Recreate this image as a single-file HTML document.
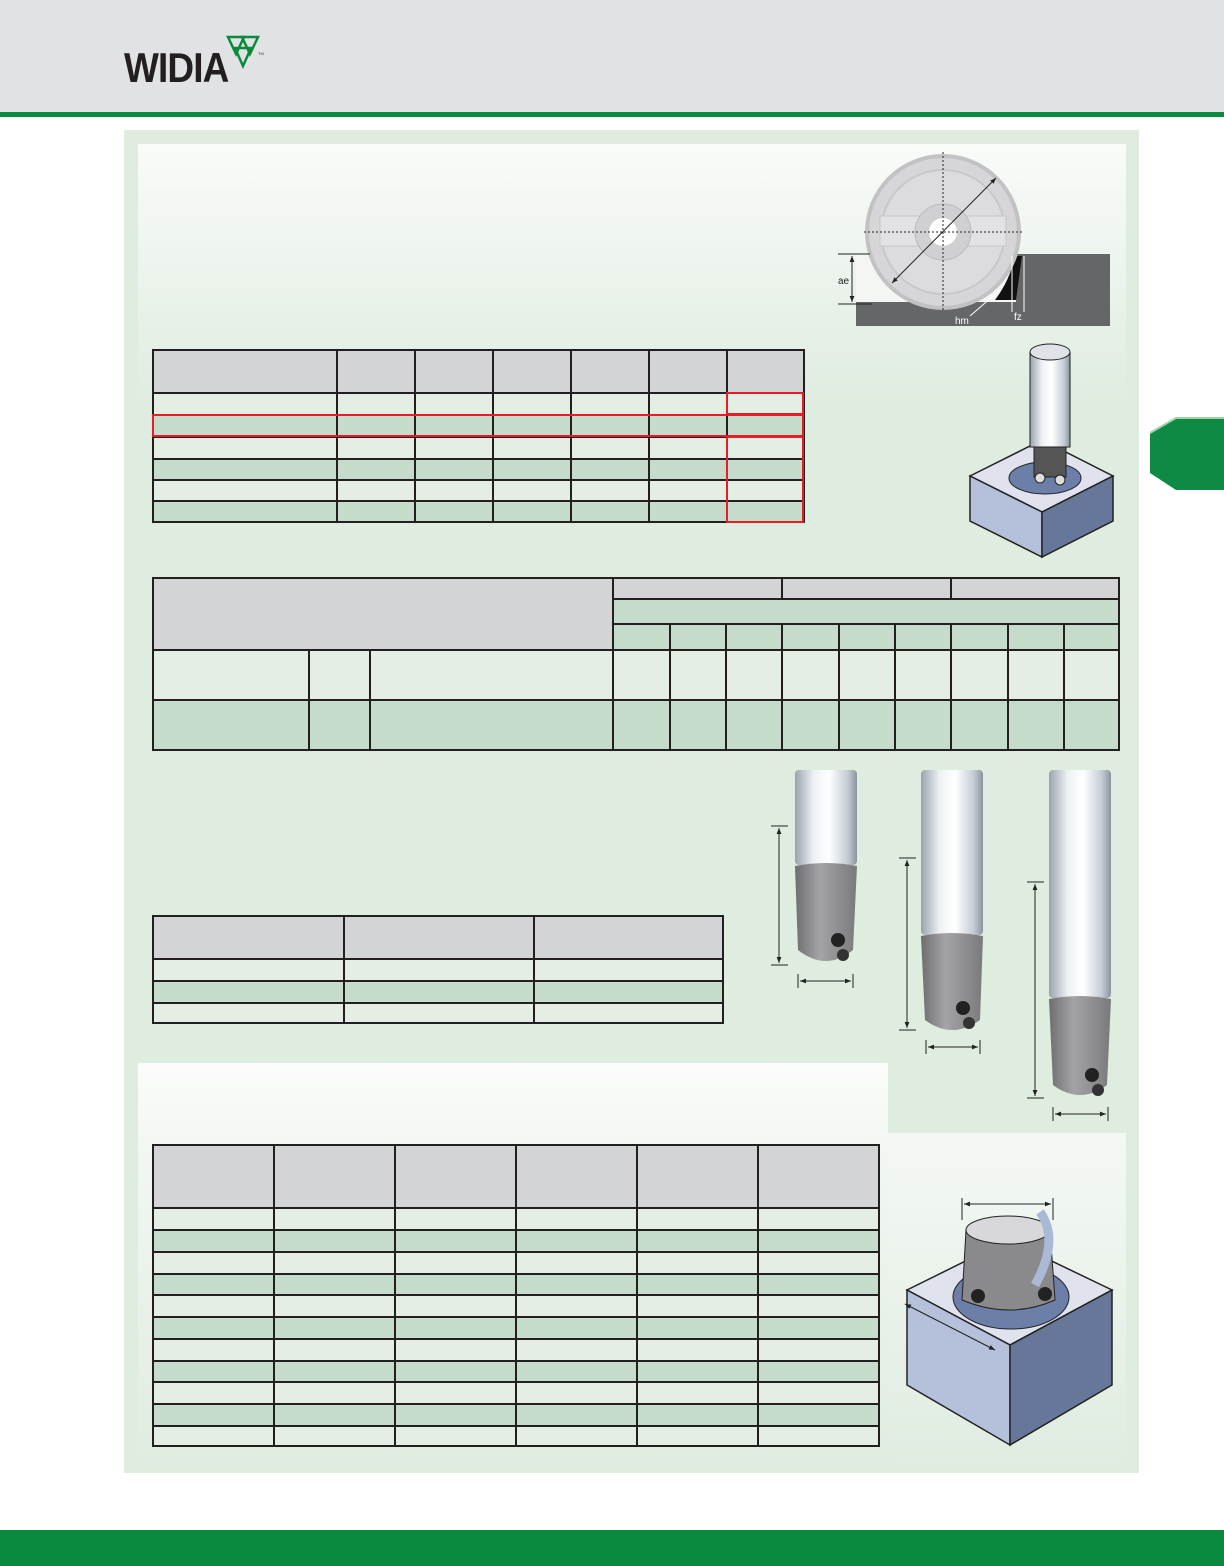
<!DOCTYPE html>
<html><head><meta charset="utf-8"><style>
*{margin:0;padding:0;box-sizing:border-box}
body{width:1224px;height:1566px;position:relative;background:#fff;overflow:hidden;font-family:"Liberation Sans",sans-serif}
.abs{position:absolute}
table{position:absolute;border-collapse:collapse;table-layout:fixed}
td{border:2px solid #231f20;padding:0}
.g{background:#d3d4d6}.l{background:#e4eee5}.d{background:#c5dccc}
.red{position:absolute;border:2px solid #e31e24}
</style></head><body>
<div class="abs" style="left:0;top:0;width:1224px;height:112px;background:#e1e2e4"></div>
<div class="abs" style="left:0;top:112px;width:1224px;height:5px;background:#0a8a3c"></div>
<div class="abs" style="left:124px;top:44px;font-size:42px;font-weight:bold;color:#231f20;letter-spacing:-1px;transform:scaleX(0.88);transform-origin:left">WIDIA</div>
<svg class="abs" style="left:226px;top:34px" width="40" height="46"><g fill="none" stroke="#0a8a3c" stroke-width="2.5"><polygon points="2,3 18,3 10,20"/><polygon points="16,3 32,3 24,20"/><polygon points="9,14 25,14 17,32" /></g><text x="32" y="21" font-size="4" fill="#333">TM</text></svg>
<div class="abs" style="left:124px;top:130px;width:1015px;height:1343px;background:#dfece0"></div>
<div class="abs" style="left:138px;top:144px;width:988px;height:260px;background:linear-gradient(#f9fbf9,#dfece0)"></div>
<div class="abs" style="left:138px;top:1063px;width:750px;height:410px;background:linear-gradient(#fbfcfb 0%,#f1f6f1 25%,#dfece0 100%)"></div>
<div class="abs" style="left:888px;top:1133px;width:238px;height:340px;background:linear-gradient(#f4f8f4,#dfece0)"></div>
<svg class="abs" style="left:1148px;top:416px" width="76" height="76"><polygon points="28,2 76,2 76,74 28,74 2,57 2,17" fill="#0f8a45"/><polyline points="2,17 28,2 76,2" stroke="#9fd0a8" stroke-width="2" fill="none"/></svg>
<div class="abs" style="left:0;top:1530px;width:1224px;height:36px;background:#0a8a3c"></div>

<!-- table 1 -->
<table style="left:152px;top:349px;width:651px;height:172px">
<colgroup><col style="width:184px"><col style="width:78px"><col style="width:78px"><col style="width:78px"><col style="width:78px"><col style="width:78px"><col style="width:77px"></colgroup>
<tr style="height:43px" class="g"><td></td><td></td><td></td><td></td><td></td><td></td><td></td></tr>
<tr style="height:22px" class="l"><td></td><td></td><td></td><td></td><td></td><td></td><td></td></tr>
<tr style="height:22px" class="d"><td></td><td></td><td></td><td></td><td></td><td></td><td></td></tr>
<tr style="height:22px" class="l"><td></td><td></td><td></td><td></td><td></td><td></td><td></td></tr>
<tr style="height:21px" class="d"><td></td><td></td><td></td><td></td><td></td><td></td><td></td></tr>
<tr style="height:21px" class="l"><td></td><td></td><td></td><td></td><td></td><td></td><td></td></tr>
<tr style="height:21px" class="d"><td></td><td></td><td></td><td></td><td></td><td></td><td></td></tr>
</table>
<div class="red" style="left:152px;top:414px;width:652px;height:23px"></div>
<div class="red" style="left:726px;top:392px;width:78px;height:23px"></div>
<div class="red" style="left:726px;top:436px;width:78px;height:87px"></div>

<!-- table 2 -->
<table style="left:152px;top:577px;width:966px;height:172px">
<colgroup><col style="width:156px"><col style="width:61px"><col style="width:243px"><col style="width:57px"><col style="width:56px"><col style="width:56px"><col style="width:57px"><col style="width:56px"><col style="width:56px"><col style="width:57px"><col style="width:56px"><col style="width:55px"></colgroup>
<tr style="height:21px"><td class="g" colspan="3" rowspan="3"></td><td class="g" colspan="3"></td><td class="g" colspan="3"></td><td class="g" colspan="3"></td></tr>
<tr style="height:25px"><td class="d" colspan="9"></td></tr>
<tr style="height:26px" class="d"><td></td><td></td><td></td><td></td><td></td><td></td><td></td><td></td><td></td></tr>
<tr style="height:50px" class="l"><td></td><td></td><td></td><td></td><td></td><td></td><td></td><td></td><td></td><td></td><td></td><td></td></tr>
<tr style="height:50px" class="d"><td></td><td></td><td></td><td></td><td></td><td></td><td></td><td></td><td></td><td></td><td></td><td></td></tr>
</table>

<!-- table 3 -->
<table style="left:152px;top:915px;width:570px;height:107px">
<colgroup><col style="width:191px"><col style="width:190px"><col style="width:189px"></colgroup>
<tr style="height:43px" class="g"><td></td><td></td><td></td></tr>
<tr style="height:22px" class="l"><td></td><td></td><td></td></tr>
<tr style="height:22px" class="d"><td></td><td></td><td></td></tr>
<tr style="height:20px" class="l"><td></td><td></td><td></td></tr>
</table>

<!-- table 4 -->
<table style="left:152px;top:1144px;width:726px;height:301px">
<colgroup><col style="width:121px"><col style="width:121px"><col style="width:121px"><col style="width:121px"><col style="width:121px"><col style="width:121px"></colgroup>
<tr style="height:63px" class="g"><td></td><td></td><td></td><td></td><td></td><td></td></tr>
<tr style="height:22px" class="l"><td></td><td></td><td></td><td></td><td></td><td></td></tr>
<tr style="height:22px" class="d"><td></td><td></td><td></td><td></td><td></td><td></td></tr>
<tr style="height:22px" class="l"><td></td><td></td><td></td><td></td><td></td><td></td></tr>
<tr style="height:21px" class="d"><td></td><td></td><td></td><td></td><td></td><td></td></tr>
<tr style="height:22px" class="l"><td></td><td></td><td></td><td></td><td></td><td></td></tr>
<tr style="height:22px" class="d"><td></td><td></td><td></td><td></td><td></td><td></td></tr>
<tr style="height:22px" class="l"><td></td><td></td><td></td><td></td><td></td><td></td></tr>
<tr style="height:21px" class="d"><td></td><td></td><td></td><td></td><td></td><td></td></tr>
<tr style="height:22px" class="l"><td></td><td></td><td></td><td></td><td></td><td></td></tr>
<tr style="height:22px" class="d"><td></td><td></td><td></td><td></td><td></td><td></td></tr>
<tr style="height:20px" class="l"><td></td><td></td><td></td><td></td><td></td><td></td></tr>
</table>

<svg class="abs" style="left:0;top:0" width="1224" height="1566">
<defs>
<linearGradient id="sh" x1="0" x2="1"><stop offset="0" stop-color="#9aa3ad"/><stop offset="0.3" stop-color="#eef1f4"/><stop offset="0.55" stop-color="#ffffff"/><stop offset="0.85" stop-color="#c5ccd4"/><stop offset="1" stop-color="#8b949e"/></linearGradient>
<linearGradient id="bd" x1="0" x2="1"><stop offset="0" stop-color="#6e6e70"/><stop offset="0.4" stop-color="#a4a4a6"/><stop offset="1" stop-color="#7a7a7c"/></linearGradient>
<marker id="a" viewBox="0 0 10 10" refX="10" refY="5" markerWidth="6" markerHeight="6" orient="auto-start-reverse"><path d="M0,1 L10,5 L0,9z" fill="#222"/></marker>
</defs>
<rect x="856" y="254" width="254" height="72" fill="#656668"/>
<rect x="856" y="254" width="160" height="48" fill="#f3f6f3"/>
<path d="M995,300 Q1010,280 1015,256 L1022,256 L1016,300 Z" fill="#111"/>
<circle cx="943" cy="232" r="76" fill="#d6d6d8" stroke="#c2c2c4" stroke-width="4"/>
<circle cx="943" cy="232" r="62" fill="#dcdcde" stroke="#c8c8ca" stroke-width="2"/>
<rect x="880" y="216" width="126" height="30" fill="#e2e2e4" stroke="#c6c6c8"/>
<circle cx="943" cy="232" r="28" fill="#d0d0d2" stroke="#bbb"/>
<circle cx="943" cy="232" r="14" fill="#fff"/>
<line x1="943" y1="152" x2="943" y2="312" stroke="#222" stroke-dasharray="2,2"/>
<line x1="864" y1="232" x2="1022" y2="232" stroke="#222" stroke-dasharray="2,2"/>
<line x1="892" y1="283" x2="996" y2="178" stroke="#222" marker-start="url(#a)" marker-end="url(#a)"/>
<line x1="838" y1="254" x2="870" y2="254" stroke="#222"/><line x1="838" y1="304" x2="872" y2="304" stroke="#222"/>
<line x1="852" y1="256" x2="852" y2="302" stroke="#222" marker-start="url(#a)" marker-end="url(#a)"/>
<text x="838" y="284" font-size="10" fill="#222">ae</text>
<line x1="1012" y1="256" x2="1012" y2="312" stroke="#fff"/><line x1="1024" y1="256" x2="1024" y2="312" stroke="#fff"/>
<line x1="970" y1="316" x2="1000" y2="290" stroke="#fff"/>
<text x="955" y="324" font-size="10" fill="#fff">hm</text><text x="1014" y="320" font-size="10" fill="#fff">fz</text>
<polygon points="970,476 1042,440 1113,476 1042,512" fill="#e0e3ee" stroke="#222" stroke-width="1.5"/>
<polygon points="970,476 1042,512 1042,557 970,521" fill="#b5c0da" stroke="#222" stroke-width="1.5"/>
<polygon points="1042,512 1113,476 1113,521 1042,557" fill="#667799" stroke="#222" stroke-width="1.5"/>
<ellipse cx="1045" cy="478" rx="36" ry="16" fill="#6b7fa8" stroke="#222"/>
<rect x="1030" y="352" width="40" height="95" fill="url(#sh)" stroke="#222"/>
<ellipse cx="1050" cy="352" rx="20" ry="8" fill="#dfe3e8" stroke="#222"/>
<rect x="1034" y="447" width="32" height="30" fill="#555" stroke="#222"/>
<circle cx="1040" cy="478" r="5" fill="#ddd" stroke="#222"/><circle cx="1060" cy="480" r="5" fill="#ddd" stroke="#222"/>
<g stroke="#222" fill="none">
<line x1="771" y1="826" x2="788" y2="826"/><line x1="771" y1="965" x2="788" y2="965"/><line x1="779" y1="828" x2="779" y2="963" marker-start="url(#a)" marker-end="url(#a)"/>
<line x1="798" y1="974" x2="798" y2="988"/><line x1="853" y1="974" x2="853" y2="988"/><line x1="800" y1="981" x2="851" y2="981" marker-start="url(#a)" marker-end="url(#a)"/>
<line x1="899" y1="858" x2="916" y2="858"/><line x1="899" y1="1030" x2="916" y2="1030"/><line x1="907" y1="860" x2="907" y2="1028" marker-start="url(#a)" marker-end="url(#a)"/>
<line x1="926" y1="1040" x2="926" y2="1054"/><line x1="980" y1="1040" x2="980" y2="1054"/><line x1="928" y1="1047" x2="978" y2="1047" marker-start="url(#a)" marker-end="url(#a)"/>
<line x1="1027" y1="882" x2="1044" y2="882"/><line x1="1027" y1="1098" x2="1044" y2="1098"/><line x1="1035" y1="884" x2="1035" y2="1096" marker-start="url(#a)" marker-end="url(#a)"/>
<line x1="1053" y1="1107" x2="1053" y2="1121"/><line x1="1108" y1="1107" x2="1108" y2="1121"/><line x1="1055" y1="1114" x2="1106" y2="1114" marker-start="url(#a)" marker-end="url(#a)"/>
</g>
<rect x="795" y="770" width="62" height="95" rx="4" fill="url(#sh)"/>
<path d="M795,866 Q826,860 857,866 L853,950 Q826,972 798,950 Z" fill="url(#bd)"/>
<circle cx="838" cy="940" r="7" fill="#222"/><circle cx="843" cy="955" r="6" fill="#333"/>
<rect x="921" y="770" width="62" height="165" rx="4" fill="url(#sh)"/>
<path d="M921,936 Q952,930 983,936 L980,1020 Q952,1040 925,1020 Z" fill="url(#bd)"/>
<circle cx="963" cy="1008" r="7" fill="#222"/><circle cx="969" cy="1023" r="6" fill="#333"/>
<rect x="1049" y="770" width="62" height="228" rx="4" fill="url(#sh)"/>
<path d="M1049,999 Q1080,993 1111,999 L1107,1085 Q1080,1105 1053,1085 Z" fill="url(#bd)"/>
<circle cx="1092" cy="1075" r="7" fill="#222"/><circle cx="1098" cy="1090" r="6" fill="#333"/>
<polygon points="907,1290 1008,1240 1112,1290 1010,1345" fill="#e0e3ee" stroke="#222" stroke-width="1.5"/>
<polygon points="907,1290 1010,1345 1010,1445 907,1385" fill="#b5c0da" stroke="#222" stroke-width="1.5"/>
<polygon points="1010,1345 1112,1290 1112,1385 1010,1445" fill="#667799" stroke="#222" stroke-width="1.5"/>
<ellipse cx="1011" cy="1297" rx="58" ry="32" fill="#6b7fa8" stroke="#222"/>
<path d="M966,1230 L1050,1230 L1055,1300 Q1010,1320 962,1300 Z" fill="#8a8a8c" stroke="#222"/>
<ellipse cx="1008" cy="1230" rx="42" ry="14" fill="#d8d8da" stroke="#222"/>
<circle cx="978" cy="1296" r="7" fill="#222"/><circle cx="1045" cy="1294" r="7" fill="#222"/>
<path d="M1040,1212 Q1060,1240 1035,1285" stroke="#a9b9d6" stroke-width="9" fill="none"/>
<g stroke="#222" fill="none">
<line x1="962" y1="1198" x2="962" y2="1220"/><line x1="1053" y1="1198" x2="1053" y2="1220"/><line x1="964" y1="1204" x2="1051" y2="1204" marker-start="url(#a)" marker-end="url(#a)"/>
<line x1="905" y1="1304" x2="995" y2="1350" marker-start="url(#a)" marker-end="url(#a)"/>
</g>
</svg>
</body></html>
